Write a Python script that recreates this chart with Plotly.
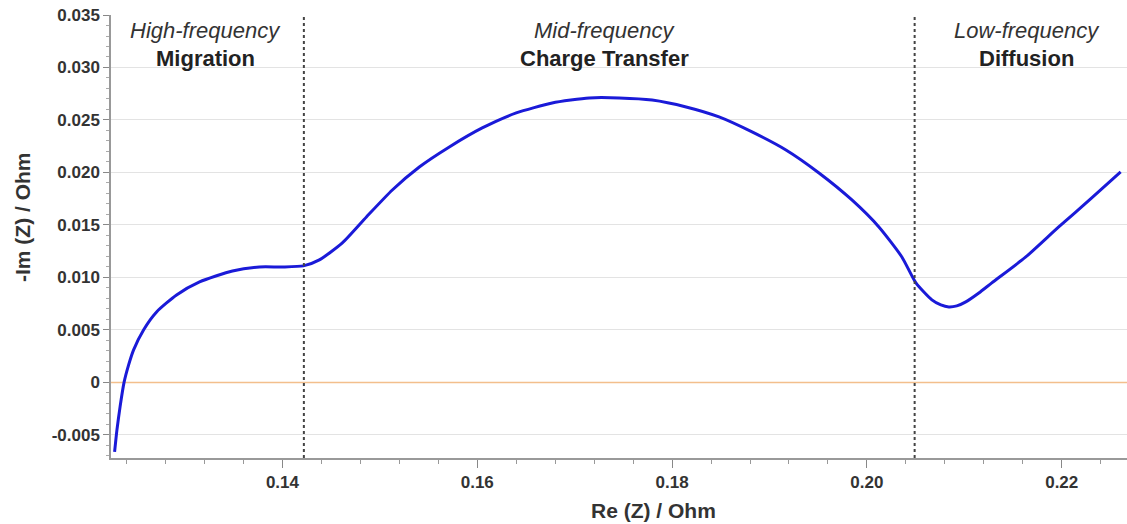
import plotly.graph_objects as go

# Nyquist data
re_z = [0.12277, 0.12301, 0.12333, 0.12374, 0.12421, 0.12472, 0.12574, 0.12708, 0.12913,
        0.13149, 0.13487, 0.13764, 0.14000, 0.14215, 0.14379, 0.14615, 0.14862, 0.15128,
        0.15405, 0.15713, 0.16051, 0.16400, 0.16769, 0.17149, 0.17456, 0.17795, 0.18144,
        0.18482, 0.18821, 0.19169, 0.19508, 0.19846, 0.20123, 0.20359, 0.20503, 0.20667,
        0.20759, 0.20841, 0.20923, 0.21015, 0.21149, 0.21282, 0.21631, 0.21969, 0.22308, 0.22605]
neg_im_z = [-0.00662, -0.00452, -0.00233, 0.00000, 0.00167, 0.00310, 0.00500, 0.00671, 0.00833,
            0.00957, 0.01062, 0.01100, 0.01100, 0.01110, 0.01167, 0.01329, 0.01576, 0.01833,
            0.02052, 0.02243, 0.02424, 0.02567, 0.02662, 0.02710, 0.02710, 0.02690, 0.02624,
            0.02529, 0.02386, 0.02214, 0.01995, 0.01738, 0.01481, 0.01195, 0.00948, 0.00786,
            0.00738, 0.00719, 0.00729, 0.00767, 0.00852, 0.00948, 0.01195, 0.01481, 0.01757, 0.02005]

region_bounds = [0.1422, 0.2049]
region_x = [0.1321, 0.1731, 0.2164]
region_italic = ["High-frequency", "Mid-frequency", "Low-frequency"]
region_bold = ["Migration", "Charge Transfer", "Diffusion"]

y_ticks = [-0.005, 0, 0.005, 0.010, 0.015, 0.020, 0.025, 0.030, 0.035]
y_ticktext = ["-0.005", "0", "0.005", "0.010", "0.015", "0.020", "0.025", "0.030", "0.035"]
x_ticks = [0.14, 0.16, 0.18, 0.20, 0.22]
x_ticktext = ["0.14", "0.16", "0.18", "0.20", "0.22"]

x_title = "Re (Z) / Ohm"
y_title = "-Im (Z) / Ohm"

x_range = [0.1224, 0.2267]
y_range = [-0.0072, 0.035]

FONT = "Liberation Sans, Arial, sans-serif"

fig = go.Figure()
# zero reference line (drawn first so the curve sits on top)
fig.add_trace(go.Scatter(x=x_range, y=[0, 0], mode="lines",
                         line=dict(color="#f3bf8c", width=1.5),
                         hoverinfo="skip", showlegend=False))
fig.add_trace(go.Scatter(x=re_z, y=neg_im_z, mode="lines",
                         line=dict(color="#1a1ad8", width=3, shape="spline", smoothing=0.6),
                         hoverinfo="skip", showlegend=False))

for b in region_bounds:
    fig.add_shape(type="line", xref="x", x0=b, x1=b, yref="y", y0=y_range[0], y1=y_range[1],
                  line=dict(color="#444444", width=2, dash="dot"))

for xc, it, bd in zip(region_x, region_italic, region_bold):
    fig.add_annotation(x=xc, y=0.0335, xref="x", yref="y", text="<i>" + it + "</i>",
                       showarrow=False, font=dict(family=FONT, size=22, color="#333333"))
    fig.add_annotation(x=xc, y=0.0309, xref="x", yref="y", text="<b>" + bd + "</b>",
                       showarrow=False, font=dict(family=FONT, size=22, color="#222222"))

# axis titles
fig.add_annotation(x=0.5344, y=-0.1174, xref="paper", yref="paper", text="<b>" + x_title + "</b>",
                   xanchor="center", yanchor="middle",
                   showarrow=False, font=dict(family=FONT, size=21, color="#333333"))
fig.add_annotation(x=-0.0876, y=0.544, xref="paper", yref="paper", text="<b>" + y_title + "</b>",
                   xanchor="center", yanchor="middle",
                   textangle=-90, showarrow=False, font=dict(family=FONT, size=21, color="#333333"))

fig.update_layout(
    width=1127, height=524,
    margin=dict(l=111, r=0, t=15, b=66),
    paper_bgcolor="white", plot_bgcolor="white",
    font=dict(family=FONT, color="#333333"),
)
fig.update_xaxes(
    range=x_range, tickvals=x_ticks, ticktext=x_ticktext,
    ticks="outside", ticklen=8, tickcolor="#888888", tickwidth=1,
    tickfont=dict(family=FONT, size=17, color="#333333", weight="bold"),
    showline=True, linecolor="#999999", linewidth=1.5, showgrid=False, zeroline=False,
    minor=dict(dtick=0.004, tick0=0.14, ticks="outside", ticklen=4, tickcolor="#999999", showgrid=False),
)
fig.update_yaxes(
    range=y_range, tickvals=y_ticks, ticktext=y_ticktext,
    ticks="outside", ticklen=6, tickcolor="#888888", tickwidth=1,
    tickfont=dict(family=FONT, size=17, color="#333333", weight="bold"),
    showline=True, linecolor="#999999", linewidth=1.5,
    showgrid=True, gridcolor="#e3e3e3", gridwidth=1, zeroline=False,
    minor=dict(dtick=0.001, tick0=0, ticks="outside", ticklen=3, tickcolor="#aaaaaa", showgrid=False),
)

fig.write_html("out.html")
